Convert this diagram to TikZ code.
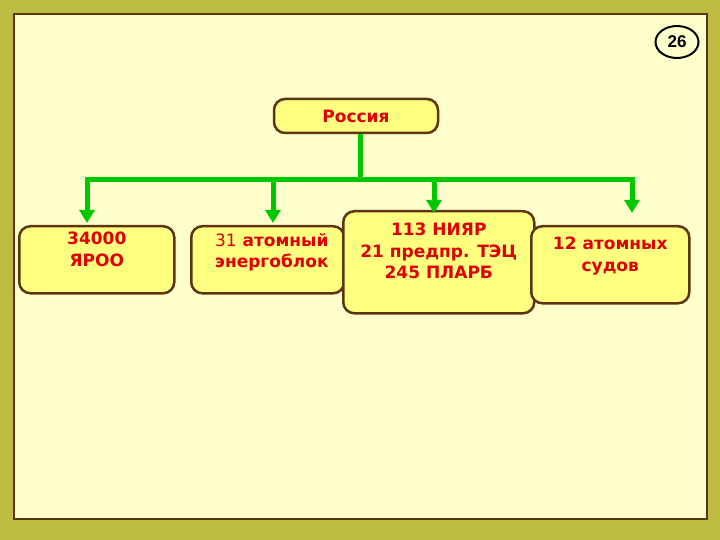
\documentclass[tikz,border=0pt]{standalone}
\usepackage{fontspec}
\setmainfont{DejaVu Sans}
\newfontfamily\pagefont{Liberation Sans}
\usetikzlibrary{arrows.meta, positioning, calc, shapes.geometric}
\definecolor{frameolive}{HTML}{BDBD44}
\definecolor{paper}{HTML}{FFFFCC}
\definecolor{boxfill}{HTML}{FFFF80}
\definecolor{boxline}{HTML}{5C3510}
\definecolor{labelred}{HTML}{E00000}
\definecolor{flowgreen}{HTML}{00C800}
\tikzset{
  unitbox/.style={draw=boxline, line width=2.5pt, fill=boxfill, rounded corners=11pt,
    inner sep=0pt, anchor=north west},
  unittext/.style={font=\fontsize{17}{21.5}\selectfont\bfseries, text=labelred,
    align=center, anchor=north, inner sep=0pt},
  flow/.style={draw=flowgreen, line width=5pt, line join=miter},
  flowarrow/.style={flow, -{Triangle[width=15pt,length=13pt]}},
}

\begin{document}
\begin{tikzpicture}[x=1pt, y=-1pt]
  % slide frame
  \fill[frameolive] (0,0) rectangle (720,540);
  \filldraw[fill=paper, draw=boxline, line width=1.5pt] (14,14) rectangle (707,519);
  % page number
  \node[ellipse, draw=black, line width=2pt, fill=paper, minimum width=43pt, minimum height=32pt,
    inner sep=0pt, font=\pagefont\fontsize{17}{17}\selectfont\bfseries] (pageno) at (677,42) {26};
  % top node
  \node[unitbox, anchor=center, minimum width=164pt, minimum height=34pt,
    font=\fontsize{17}{17}\selectfont\bfseries, text=labelred] (russia) at (356,116) {Россия};
  % branches
  \node[unitbox, minimum width=155pt, minimum height=67pt] (yaroo) at (18,225) {};
  \node[unitbox, minimum width=153pt, minimum height=67pt] (blocks) at (190,225) {};
  \node[unitbox, minimum width=191pt, minimum height=102pt] (niyar) at (342,210) {};
  \node[unitbox, minimum width=158pt, minimum height=77pt] (ships) at (530,225) {};
  \node[unittext] (yarootext) at ($(yaroo.north)+(0,7)$) {34000\\ЯРОО};
  \node[unittext] (blockstext) at ($(blocks.north)+(4,8)$) {{\mdseries 31} атомный\\энергоблок};
  \node[unittext] (niyartext) at ($(niyar.north)+(0,13)$) {113 НИЯР\\21 предпр. ТЭЦ\\245 ПЛАРБ};
  \node[unittext] (shipstext) at ($(ships.north)+(0,12)$) {12 атомных\\судов};
  % connectors
  \coordinate (hub) at (360,180);
  \coordinate (tip1) at (87,223);
  \coordinate (tip2) at (273,223);
  \coordinate (tip3) at (434,213);
  \coordinate (tip4) at (632,213);
  \draw[flow] (hub |- russia.south) -- (hub);
  \foreach \t in {tip1, tip2, tip3, tip4}
    \draw[flowarrow] (hub) -| (\t);
\end{tikzpicture}
\end{document}
